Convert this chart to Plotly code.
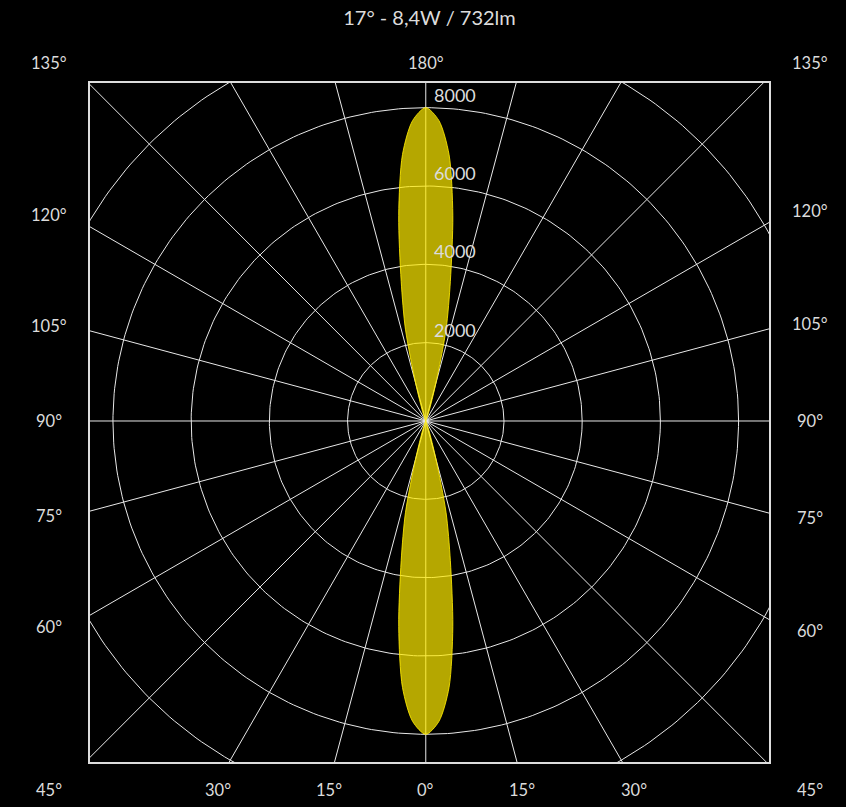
import numpy as np
import plotly.graph_objects as go

# photometric data (same curve for the 0° and 180° halves)
title_text = "17° - 8,4W / 732lm"
gamma_deg = [0, 2.5, 5, 7.5, 10, 12.5, 15, 17.5, 20, 25, 30]
intensity_cd = [8000, 7680, 6830, 5300, 3620, 2400, 1000, 380, 150, 40, 0]

# grid
ring_values = [2000, 4000, 6000, 8000, 10000]
ring_labels = ["2000", "4000", "6000", "8000"]
spoke_step_deg = 15
side_tick_deg = [0, 15, 30, 45, 60, 75, 90, 105, 120, 135]
top_tick_deg = 180

X_RANGE = [-8587, 8778]
Y_RANGE = [-8707, 8630]
UNITS_PER_PX = 25.556
GRID_COLOR = "#e8e8e8"
TEXT_COLOR = "#dcdcdc"
FONT = "Lato"

fig = go.Figure()

# rings
phi = np.linspace(0, 2 * np.pi, 361)
for r in ring_values:
    fig.add_trace(go.Scatter(
        x=r * np.cos(phi), y=r * np.sin(phi), mode="lines",
        line=dict(color=GRID_COLOR, width=1), hoverinfo="skip", showlegend=False
    ))

# spokes
far = 14000
for a in range(0, 180, spoke_step_deg):
    t = np.radians(a)
    fig.add_trace(go.Scatter(
        x=[-far * np.sin(t), far * np.sin(t)], y=[-far * np.cos(t), far * np.cos(t)],
        mode="lines", line=dict(color=GRID_COLOR, width=1),
        hoverinfo="skip", showlegend=False
    ))

# light distribution lobes (downward 0° and upward 180°)
g = np.radians(np.array([-v for v in gamma_deg[::-1]] + gamma_deg[1:]))
cd = np.array(intensity_cd[::-1] + intensity_cd[1:])
for sign in (-1, 1):
    fig.add_trace(go.Scatter(
        x=cd * np.sin(g), y=sign * cd * np.cos(g), mode="lines",
        fill="toself", fillcolor="rgba(255,235,0,0.71)",
        line=dict(color="rgba(255,235,0,0.85)", width=1, shape="spline", smoothing=0.8),
        hoverinfo="skip", showlegend=False
    ))

# ring labels
for r, lab in zip(ring_values, ring_labels):
    fig.add_annotation(x=0, y=r, text=lab, showarrow=False, xanchor="left",
                       yanchor="middle", xshift=6, yshift=13,
                       font=dict(family=FONT, size=18, color=TEXT_COLOR))

# angle labels sit on a box 20px outside the frame (placed in paper coords,
# since data-referenced annotations outside the axis range get hidden)
pad = 20 * UNITS_PER_PX
box_l, box_r = -X_RANGE[0] + pad, X_RANGE[1] + pad
box_b, box_t = -Y_RANGE[0] + pad, Y_RANGE[1] + pad


def to_paper(x, y):
    return ((x - X_RANGE[0]) / (X_RANGE[1] - X_RANGE[0]),
            (y - Y_RANGE[0]) / (Y_RANGE[1] - Y_RANGE[0]))


def edge_label(gamma, side):
    t = np.radians(gamma)
    dx, dy = side * np.sin(t), -np.cos(t)
    if abs(dx) < 1e-9:
        dx = 0.0
    if abs(dy) < 1e-9:
        dy = 0.0
    xb = box_r if dx > 0 else box_l
    yb = box_t if dy > 0 else box_b
    tx = xb / abs(dx) if dx else np.inf
    ty = yb / abs(dy) if dy else np.inf
    k = min(tx, ty)
    x, y = k * dx, k * dy
    xs, ys = 0, 0
    corner = np.isfinite(tx) and np.isfinite(ty) and abs(tx - ty) <= 0.03 * max(tx, ty)
    if corner:
        x, y = np.sign(dx) * xb, np.sign(dy) * yb
    if corner or tx < ty:
        xs = int(21 * np.sign(dx))
    if (corner or ty < tx) and dy < 0:
        ys = -8
    px, py = to_paper(x, y)
    fig.add_annotation(x=float(px), y=float(py), xref="paper", yref="paper",
                       text=f"{gamma}°", showarrow=False,
                       xanchor="center", yanchor="middle", xshift=xs, yshift=ys,
                       font=dict(family=FONT, size=16.5, color=TEXT_COLOR))


for gm in side_tick_deg:
    edge_label(gm, -1)
    if gm != 0:
        edge_label(gm, 1)
edge_label(top_tick_deg, 1)

fig.update_layout(
    width=846, height=807,
    margin=dict(l=90, r=77, t=83, b=45),
    paper_bgcolor="black", plot_bgcolor="black",
    title=dict(text=title_text, x=0.5, xref="paper", y=1 - 18 / 807,
               yanchor="middle", font=dict(family=FONT, size=20, color=TEXT_COLOR)),
    showlegend=False,
)
axis_style = dict(showgrid=False, zeroline=False, showticklabels=False, ticks="",
                  showline=True, mirror=True, linecolor="#dddddd", linewidth=2)
fig.update_xaxes(range=X_RANGE, **axis_style)
fig.update_yaxes(range=Y_RANGE, **axis_style)

fig.write_html(
    "out.html",
    config={"displayModeBar": False},
    post_script="document.body.style.margin='0';document.body.style.background='black';",
)
